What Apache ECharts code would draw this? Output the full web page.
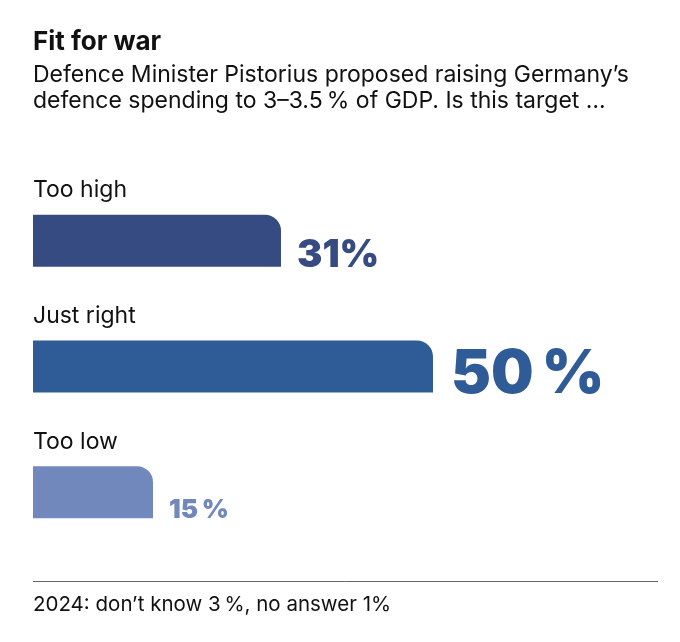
<!DOCTYPE html>
<html>
<head>
<meta charset="utf-8">
<script src="https://cdn.jsdelivr.net/npm/echarts@6/dist/echarts.min.js"></script>
<style>
  html, body { margin: 0; padding: 0; background: #fff; }
  #main { width: 680px; height: 642px; }
</style>
</head>
<body>
<div id="main"></div>
<script>
// data
const categories = ['Too high', 'Just right', 'Too low']
const shares = [31, 50, 15]

// styles per bar
const barColors = ['#354b82', '#2f5b97', '#7088bb']
const labelSizes = [38, 60, 26]
const labelGaps = [16, 18, 16]

const FONT = 'Inter, "Noto Sans", sans-serif'

const chart = echarts.init(document.getElementById('main'), null, { renderer: 'canvas' })

const option = {
  animation: false,
  title: {
    text: 'Fit for war',
    subtext: 'Defence Minister Pistorius proposed raising Germany\u2019s\ndefence spending to 3\u20133.5\u2009% of GDP. Is this target \u2026',
    left: 33,
    top: 29,
    padding: 0,
    itemGap: 7,
    textStyle: {
      fontFamily: FONT,
      fontSize: 26,
      fontWeight: 'bold',
      color: '#111'
    },
    subtextStyle: {
      fontFamily: FONT,
      fontSize: 23,
      lineHeight: 26,
      color: '#111'
    }
  },
  grid: {
    left: 33,
    width: 640,
    top: 178,
    height: 377
  },
  xAxis: {
    type: 'value',
    min: 0,
    max: 80,
    show: false
  },
  yAxis: {
    type: 'category',
    data: categories,
    inverse: true,
    show: false
  },
  series: [
    {
      // invisible twin bars, only carry the category names above each bar
      name: 'names',
      type: 'bar',
      silent: true,
      barWidth: 52,
      barGap: '-100%',
      itemStyle: { color: 'transparent' },
      label: {
        show: true,
        position: [0, -13],
        align: 'left',
        verticalAlign: 'bottom',
        formatter: p => categories[p.dataIndex],
        fontFamily: FONT,
        fontSize: 23,
        color: '#111'
      },
      data: shares
    },
    {
      name: 'share',
      type: 'bar',
      barWidth: 52,
      barGap: '-100%',
      data: shares.map((v, i) => ({
        value: v,
        itemStyle: {
          color: barColors[i],
          borderRadius: [0, 16, 0, 0]
        },
        label: {
          fontSize: labelSizes[i],
          color: barColors[i],
          offset: [labelGaps[i], Math.round(labelSizes[i] * 0.2)]
        }
      })),
      label: {
        show: true,
        position: ['100%', '100%'],
        align: 'left',
        verticalAlign: 'bottom',
        formatter: p => p.value + (p.value === 31 ? '%' : '\u2009%'),
        fontFamily: FONT,
        fontWeight: 900
      }
    }
  ],
  graphic: [
    {
      type: 'line',
      shape: { x1: 33, y1: 581.5, x2: 658, y2: 581.5 },
      style: { stroke: '#666', lineWidth: 1 }
    },
    {
      type: 'text',
      left: 33,
      top: 594,
      style: {
        text: '2024: don\u2019t know 3\u2009%, no answer 1%',
        font: '20.5px ' + FONT,
        fill: '#111'
      }
    }
  ]
}

chart.setOption(option)
</script>
</body>
</html>
